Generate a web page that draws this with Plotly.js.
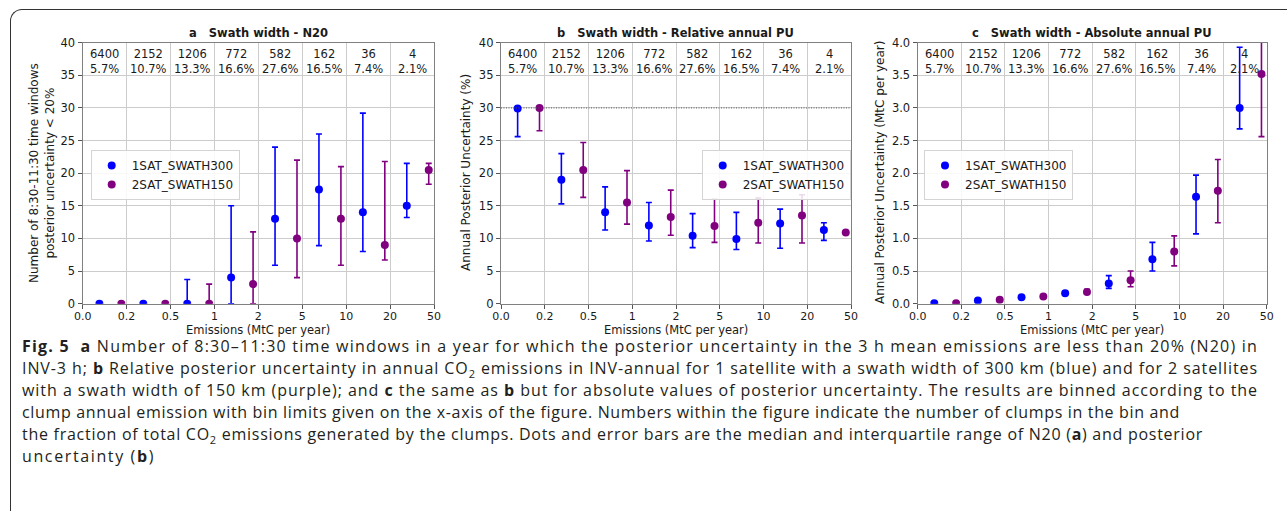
<!DOCTYPE html>
<html>
<head>
<meta charset="utf-8">
<script src="https://cdn.plot.ly/plotly-3.0.1.min.js"></script>
<style>
  html, body { margin:0; padding:0; background:#fff; }
  #wrap { position:relative; width:1287px; height:511px; overflow:hidden; }
  #plot { position:absolute; left:0; top:0; width:1287px; height:511px; }
  #frame { position:absolute; left:10px; top:9px; width:1400px; height:600px;
           border-left:1.3px solid #333; border-top:1.3px solid #333;
           border-top-left-radius:12px; pointer-events:none; }
  #caption { position:absolute; left:22px; top:335px;
             font-family:"Open Sans", "Noto Sans", sans-serif; font-size:16px;
             line-height:22px; color:#231f20; }
  #caption .ln { display:block; white-space:nowrap; height:22px; }
  #caption .ln span.t { display:inline-block; line-height:20px; }
  #caption sub { font-size:11px; line-height:0; vertical-align:-4px; }
</style>
</head>
<body>
<div id="wrap">
  <div id="plot"></div>
  <div id="frame"></div>
  <div id="caption">
    <div class="ln" data-w="1236"><span class="t"><b>Fig. 5</b>&nbsp; <b>a</b> Number of 8:30–11:30 time windows in a year for which the posterior uncertainty in the 3 h mean emissions are less than 20% (N20) in</span></div>
    <div class="ln" data-w="1236"><span class="t">INV-3 h; <b>b</b> Relative posterior uncertainty in annual CO<sub>2</sub> emissions in INV-annual for 1 satellite with a swath width of 300 km (blue) and for 2 satellites</span></div>
    <div class="ln" data-w="1236"><span class="t">with a swath width of 150 km (purple); and <b>c</b> the same as <b>b</b> but for absolute values of posterior uncertainty. The results are binned according to the</span></div>
    <div class="ln" data-w="1158"><span class="t">clump annual emission with bin limits given on the x-axis of the figure. Numbers within the figure indicate the number of clumps in the bin and</span></div>
    <div class="ln" data-w="1181"><span class="t">the fraction of total CO<sub>2</sub> emissions generated by the clumps. Dots and error bars are the median and interquartile range of N20 (<b>a</b>) and posterior</span></div>
    <div class="ln" data-w="133"><span class="t">uncertainty (<b>b</b>)</span></div>
  </div>
</div>
<script>
// ---- data ----
const binEdgeLabels = ["0.0","0.2","0.5","1","2","5","10","20","50"];
const binCounts = ["6400","2152","1206","772","582","162","36","4"];
const binFractions = ["5.7%","10.7%","13.3%","16.6%","27.6%","16.5%","7.4%","2.1%"];
const seriesNames = ["1SAT_SWATH300","2SAT_SWATH150"];

// panel a: N20
const n20_sat1_med = [0, 0, 0, 4, 13, 17.5, 14, 15];
const n20_sat1_lo  = [0, 0, 0, 0, 5.9, 8.9, 8.0, 13.2];
const n20_sat1_hi  = [0, 0, 3.7, 15, 24, 26, 29.2, 21.5];
const n20_sat2_med = [0, 0, 0, 3, 10, 13, 9, 20.5];
const n20_sat2_lo  = [0, 0, 0, 0, 4, 5.9, 6.7, 18.3];
const n20_sat2_hi  = [0, 0, 3, 11, 22, 21, 21.8, 21.5];

// panel b: relative annual PU (%)
const rel_sat1_med = [29.9, 19.0, 14.0, 12.0, 10.4, 9.9, 12.3, 11.3];
const rel_sat1_lo  = [25.6, 15.3, 11.3, 9.6, 8.6, 8.3, 8.5, 9.7];
const rel_sat1_hi  = [29.9, 23.0, 17.9, 15.5, 13.8, 14.0, 14.5, 12.4];
const rel_sat2_med = [30.0, 20.5, 15.5, 13.3, 11.9, 12.4, 13.5, 10.9];
const rel_sat2_lo  = [26.5, 16.3, 12.2, 10.5, 9.4, 9.3, 9.3, 10.8];
const rel_sat2_hi  = [30.0, 24.7, 20.4, 17.4, 16.0, 16.2, 16.7, 11.0];

// panel c: absolute annual PU (MtC per year)
const abs_sat1_med = [0.005, 0.05, 0.10, 0.16, 0.31, 0.68, 1.64, 3.00];
const abs_sat1_lo  = [0.005, 0.04, 0.09, 0.14, 0.235, 0.50, 1.07, 2.68];
const abs_sat1_hi  = [0.005, 0.06, 0.11, 0.19, 0.43, 0.94, 1.97, 3.93];
const abs_sat2_med = [0.005, 0.06, 0.11, 0.18, 0.36, 0.80, 1.73, 3.52];
const abs_sat2_lo  = [0.005, 0.05, 0.09, 0.15, 0.26, 0.58, 1.24, 2.56];
const abs_sat2_hi  = [0.005, 0.07, 0.13, 0.22, 0.50, 1.04, 2.21, 4.40];

// ---- build ----
const BLUE = "#0000ff", PURPLE = "#800080";
const binIdx = binCounts.map((_, i) => i);
const offs = [0.38, 0.88];
const W = 1287, H = 511;
const px = v => v / W, py = v => 1 - v / H;

function errTrace(med, lo, hi, k, ax, legendName) {
  const color = k === 0 ? BLUE : PURPLE;
  return {
    type: "scatter", mode: "markers",
    x: binIdx.map(i => i + offs[k]), y: med,
    xaxis: "x" + (ax === 1 ? "" : ax), yaxis: "y" + (ax === 1 ? "" : ax),
    name: seriesNames[k], legend: legendName, showlegend: true,
    marker: { color: color, size: 8 },
    error_y: { type: "data", symmetric: false,
      array: hi.map((h, i) => h - med[i]),
      arrayminus: lo.map((l, i) => med[i] - l),
      color: color, thickness: 1.6, width: 3 },
    hoverinfo: "x+y"
  };
}

const traces = [
  errTrace(n20_sat1_med, n20_sat1_lo, n20_sat1_hi, 0, 1, "legend"),
  errTrace(n20_sat2_med, n20_sat2_lo, n20_sat2_hi, 1, 1, "legend"),
  errTrace(rel_sat1_med, rel_sat1_lo, rel_sat1_hi, 0, 2, "legend2"),
  errTrace(rel_sat2_med, rel_sat2_lo, rel_sat2_hi, 1, 2, "legend2"),
  errTrace(abs_sat1_med, abs_sat1_lo, abs_sat1_hi, 0, 3, "legend3"),
  errTrace(abs_sat2_med, abs_sat2_lo, abs_sat2_hi, 1, 3, "legend3")
];

const FONT = "DejaVu Sans";
const TXT = "#1a1a1a";
const xDomains = [[px(82.7), px(434)], [px(501), px(851)], [px(917.7), px(1266.7)]];
const yDomain = [py(303.7), py(42.7)];

function xAxis(d) {
  return { domain: d, range: [0, 8], tickmode: "array",
    tickvals: binEdgeLabels.map((_, i) => i), ticktext: binEdgeLabels,
    showgrid: true, gridcolor: "#cccccc", gridwidth: 1,
    showline: true, linecolor: "#808080", linewidth: 1.2, mirror: true,
    ticks: "outside", ticklen: 4, tickcolor: "#555", tickwidth: 1, ticklabelstandoff: -2,
    tickfont: { family: FONT, size: 11, color: TXT }, zeroline: false, fixedrange: true };
}
function yAxis(range, dtick, fmt, anchor) {
  return { domain: yDomain, range: range, dtick: dtick, tick0: 0, tickformat: fmt,
    anchor: anchor,
    showgrid: true, gridcolor: "#cccccc", gridwidth: 1,
    showline: true, linecolor: "#808080", linewidth: 1.2, mirror: true,
    ticks: "outside", ticklen: 4, tickcolor: "#555", tickwidth: 1,
    tickfont: { family: FONT, size: 11.5, color: TXT }, zeroline: false, fixedrange: true };
}

const annotations = [];
const titles = ["<b>a   Swath width - N20</b>", "<b>b   Swath width - Relative annual PU</b>",
                "<b>c   Swath width - Absolute annual PU</b>"];
const yTitles = ["Number of 8:30-11:30 time windows<br>posterior uncertainty &lt; 20%",
                 "Annual Posterior Uncertainty (%)",
                 "Annual Posterior Uncertainty (MtC per year)"];
const yTitleX = [42, 466, 880];
for (let p = 0; p < 3; p++) {
  const d = xDomains[p];
  annotations.push({ xref: "paper", yref: "paper", x: (d[0] + d[1]) / 2, y: py(32.7),
    text: titles[p], showarrow: false, xanchor: "center", yanchor: "middle",
    font: { family: FONT, size: 11.5, color: TXT } });
  annotations.push({ xref: "paper", yref: "paper", x: (d[0] + d[1]) / 2, y: py(329.5),
    text: "Emissions (MtC per year)", showarrow: false, xanchor: "center", yanchor: "middle",
    font: { family: FONT, size: 11.5, color: TXT } });
  annotations.push({ xref: "paper", yref: "paper", x: px(yTitleX[p]), y: py(173),
    text: yTitles[p], showarrow: false, textangle: -90, xanchor: "center", yanchor: "middle",
    font: { family: FONT, size: 12, color: TXT } });
  const xr = p === 0 ? "x" : "x" + (p + 1);
  binCounts.forEach((c, i) => {
    annotations.push({ xref: xr, yref: "paper", x: i + 0.5, y: py(61.5),
      text: c + "<br>" + binFractions[i], showarrow: false, xanchor: "center", yanchor: "middle",
      font: { family: FONT, size: 11.5, color: TXT } });
  });
}

function legendAt(xpx) {
  return { x: px(xpx), y: py(150), xanchor: "left", yanchor: "top",
    bgcolor: "rgba(255,255,255,0.85)", bordercolor: "#d4d4d4", borderwidth: 1,
    font: { family: FONT, size: 12, color: TXT }, itemclick: false, itemdoubleclick: false };
}

const layout = {
  width: W, height: H, margin: { l: 0, r: 0, t: 0, b: 0 },
  paper_bgcolor: "#fff", plot_bgcolor: "#fff",
  xaxis: Object.assign(xAxis(xDomains[0]), { anchor: "y" }),
  xaxis2: Object.assign(xAxis(xDomains[1]), { anchor: "y2" }),
  xaxis3: Object.assign(xAxis(xDomains[2]), { anchor: "y3" }),
  yaxis: yAxis([0, 40], 5, "d", "x"),
  yaxis2: yAxis([0, 40], 5, "d", "x2"),
  yaxis3: yAxis([0, 4], 0.5, ".1f", "x3"),
  legend: legendAt(90.7), legend2: legendAt(701.7), legend3: legendAt(924),
  shapes: [{ type: "line", xref: "x2 domain", yref: "y2", x0: 0, x1: 1, y0: 30, y1: 30,
    line: { color: "#555", width: 1, dash: "1px,1.5px" } }],
  annotations: annotations,
  showlegend: true
};

Plotly.newPlot("plot", traces, layout, { displayModeBar: false, staticPlot: true });

// fit caption lines to the reference's line lengths
document.querySelectorAll("#caption .ln").forEach(ln => {
  const t = ln.querySelector(".t");
  const target = parseFloat(ln.dataset.w);
  const n = t.textContent.length;
  const w = t.getBoundingClientRect().width;
  t.style.letterSpacing = ((target - w) / n).toFixed(3) + "px";
});
</script>
</body>
</html>
